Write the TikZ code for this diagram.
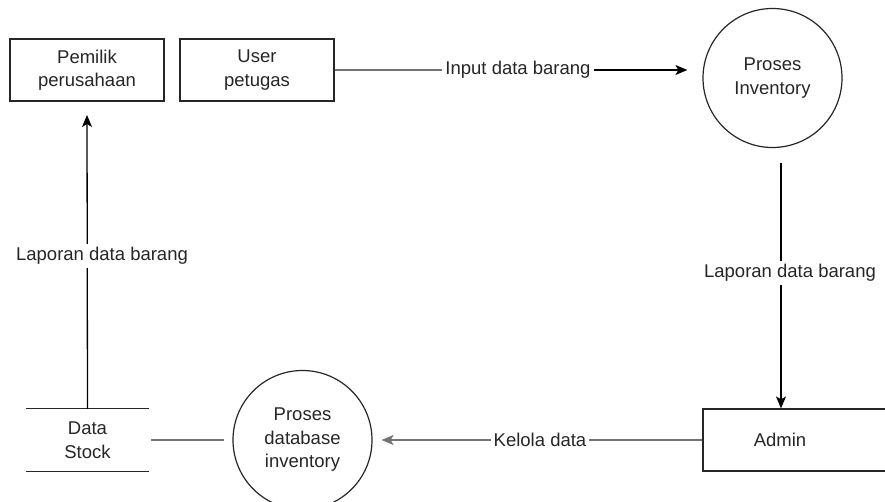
\documentclass[tikz,border=0pt]{standalone}
\usepackage{fontspec}
\setmainfont{Liberation Sans}
\usetikzlibrary{arrows.meta}
\begin{document}
\begin{tikzpicture}[x=1pt,y=-1pt,
  every node/.style={font=\fontsize{18.5}{23.5}\selectfont, text=black!85},
  entity/.style={draw=black!85, line width=1.2pt, minimum width=154pt, minimum height=62pt, inner sep=0pt, align=center},
  proc/.style={draw=black!85, line width=1.2pt, circle, minimum size=139pt, inner sep=0pt, align=center},
  flowlbl/.style={fill=white, inner sep=3pt},
  arr/.style={draw=black, line width=1.3pt, -{Stealth[length=12pt,width=10pt,inset=3pt]}},
  plain/.style={draw=black!55, line width=1.5pt}
]
\clip (0,0) rectangle (885,501);
\fill[white] (0,0) rectangle (885,501);
% entities
\node[entity] (pemilik) at (87,70) {Pemilik\\perusahaan};
\node[entity] (user) at (257,70) {User\\petugas};
\node[entity, minimum width=200pt] (admin) at (803,440) {};
\node (admintxt) at (780,440) {Admin};
% processes
\node[proc] (pinv) at (772.5,78) {Proses\\Inventory};
\node[proc] (pdb) at (302.5,440) {Proses\\database\\inventory};
% data store
\node[minimum width=123pt, minimum height=62pt, inner sep=0pt, align=center] (stock) at (87.5,440) {Data\\Stock};
\draw[black!85, line width=1.2pt] (stock.north west) -- (stock.north east);
\draw[black!85, line width=1.2pt] (stock.south west) -- (stock.south east);
% labels
\node[flowlbl] (linput) at (518,70) {Input data barang};
\node[flowlbl] (lkelola) at (540,440) {Kelola data};
\coordinate (rtop) at (781,163);
\coordinate (ltop) at (87,115);
% flows
\draw[plain] (user.east) -- (linput.west);
\draw[arr, shorten >=15pt] (linput.east) -- (linput.east -| pinv.west);
\draw[arr] (rtop) -- (rtop |- admin.north);
\node[flowlbl] (lrep2) at (790,273) {Laporan data barang};
\draw[plain] (admin.west) -- (lkelola.east);
\draw[arr, draw=black!55, shorten >=9pt] (lkelola.west) -- (pdb.east);
\draw[plain, shorten <=2pt, shorten >=8pt] (stock.east) -- (pdb.west);
\draw[arr] (stock.north) -- (ltop);
\node[flowlbl] (lrep1) at (102,256) {Laporan data barang};
\end{tikzpicture}
\end{document}
